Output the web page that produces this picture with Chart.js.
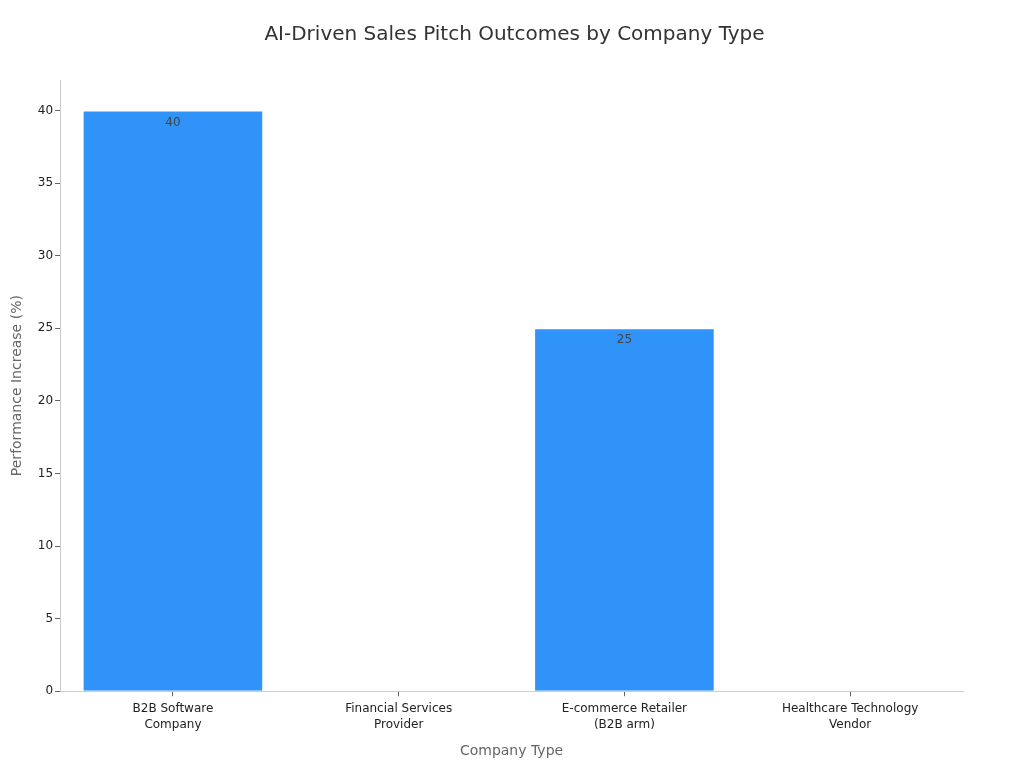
<!DOCTYPE html>
<html>
<head>
<meta charset="utf-8">
<script src="https://cdn.jsdelivr.net/npm/chart.js@4"></script>
<style>
  html, body { margin: 0; padding: 0; background: #fff; }
  #wrap { width: 1024px; height: 768px; }
</style>
</head>
<body>
<div id="wrap"><canvas id="chart"></canvas></div>
<script>
// chart values
const categories = [
    ['B2B Software', 'Company'],
    ['Financial Services', 'Provider'],
    ['E-commerce Retailer', '(B2B arm)'],
    ['Healthcare Technology', 'Vendor']
];
const increases = [40, null, 25, null];
const yTicks = [0, 5, 10, 15, 20, 25, 30, 35, 40];

// writes the value just inside the top of each bar
const barLabels = {
    id: 'barLabels',
    afterDatasetsDraw(chart) {
        const ctx = chart.ctx;
        const meta = chart.getDatasetMeta(0);
        ctx.save();
        ctx.font = '12px "DejaVu Sans"';
        ctx.fillStyle = '#444';
        ctx.textAlign = 'center';
        ctx.textBaseline = 'top';
        meta.data.forEach((bar, i) => {
            const v = increases[i];
            if (v === null) return;
            ctx.fillText(String(v), bar.x, bar.y + 6);
        });
        ctx.restore();
    }
};

Chart.defaults.font.family = '"DejaVu Sans", sans-serif';
Chart.defaults.color = '#333';

const ctx = document.getElementById('chart').getContext('2d');
const myChart = new Chart(ctx, {
    type: 'bar',
    data: {
        labels: categories,
        datasets: [{
            label: 'Performance Increase (%)',
            data: increases,
            backgroundColor: '#2f93fa',
            borderColor: 'rgba(255,255,255,0.45)',
            borderWidth: 1,
            barPercentage: 0.8,
            categoryPercentage: 1.0
        }]
    },
    options: {
        responsive: true,
        maintainAspectRatio: false,
        animation: false,
        layout: { padding: { left: 5, right: 0, bottom: 2 } },
        plugins: {
            legend: { display: false },
            tooltip: { enabled: false },
            title: {
                display: true,
                text: 'AI-Driven Sales Pitch Outcomes by Company Type',
                color: '#333',
                font: { size: 20, weight: 'normal' },
                padding: { top: 23, bottom: 33 }
            }
        },
        scales: {
            x: {
                grid: { display: true, offset: false, drawOnChartArea: false, drawTicks: true, tickLength: 5, color: '#666' },
                border: { display: true, color: '#ccc' },
                ticks: { color: '#222', font: { size: 12, lineHeight: 1.33 }, maxRotation: 0, padding: 5 },
                title: {
                    display: true,
                    text: 'Company Type',
                    color: '#666',
                    font: { size: 14 },
                    padding: { top: 5, bottom: 6 }
                }
            },
            y: {
                min: 0,
                max: 42.1,
                afterBuildTicks(scale) {
                    scale.ticks = yTicks.map(v => ({ value: v }));
                },
                grid: { display: true, drawOnChartArea: false, drawTicks: true, tickLength: 5, color: '#666' },
                border: { display: true, color: '#ccc' },
                ticks: { color: '#222', font: { size: 12 }, padding: 2 },
                title: {
                    display: true,
                    text: 'Performance Increase (%)',
                    color: '#666',
                    font: { size: 14 },
                    padding: { bottom: 10 }
                }
            },
            // empty right axis, only keeps a margin so the title stays centred on the page
            yRight: {
                position: 'right',
                display: true,
                grid: { display: false },
                border: { display: false },
                ticks: { display: false },
                afterFit(scale) { scale.width = 61; }
            }
        }
    },
    plugins: [barLabels]
});
</script>
</body>
</html>
